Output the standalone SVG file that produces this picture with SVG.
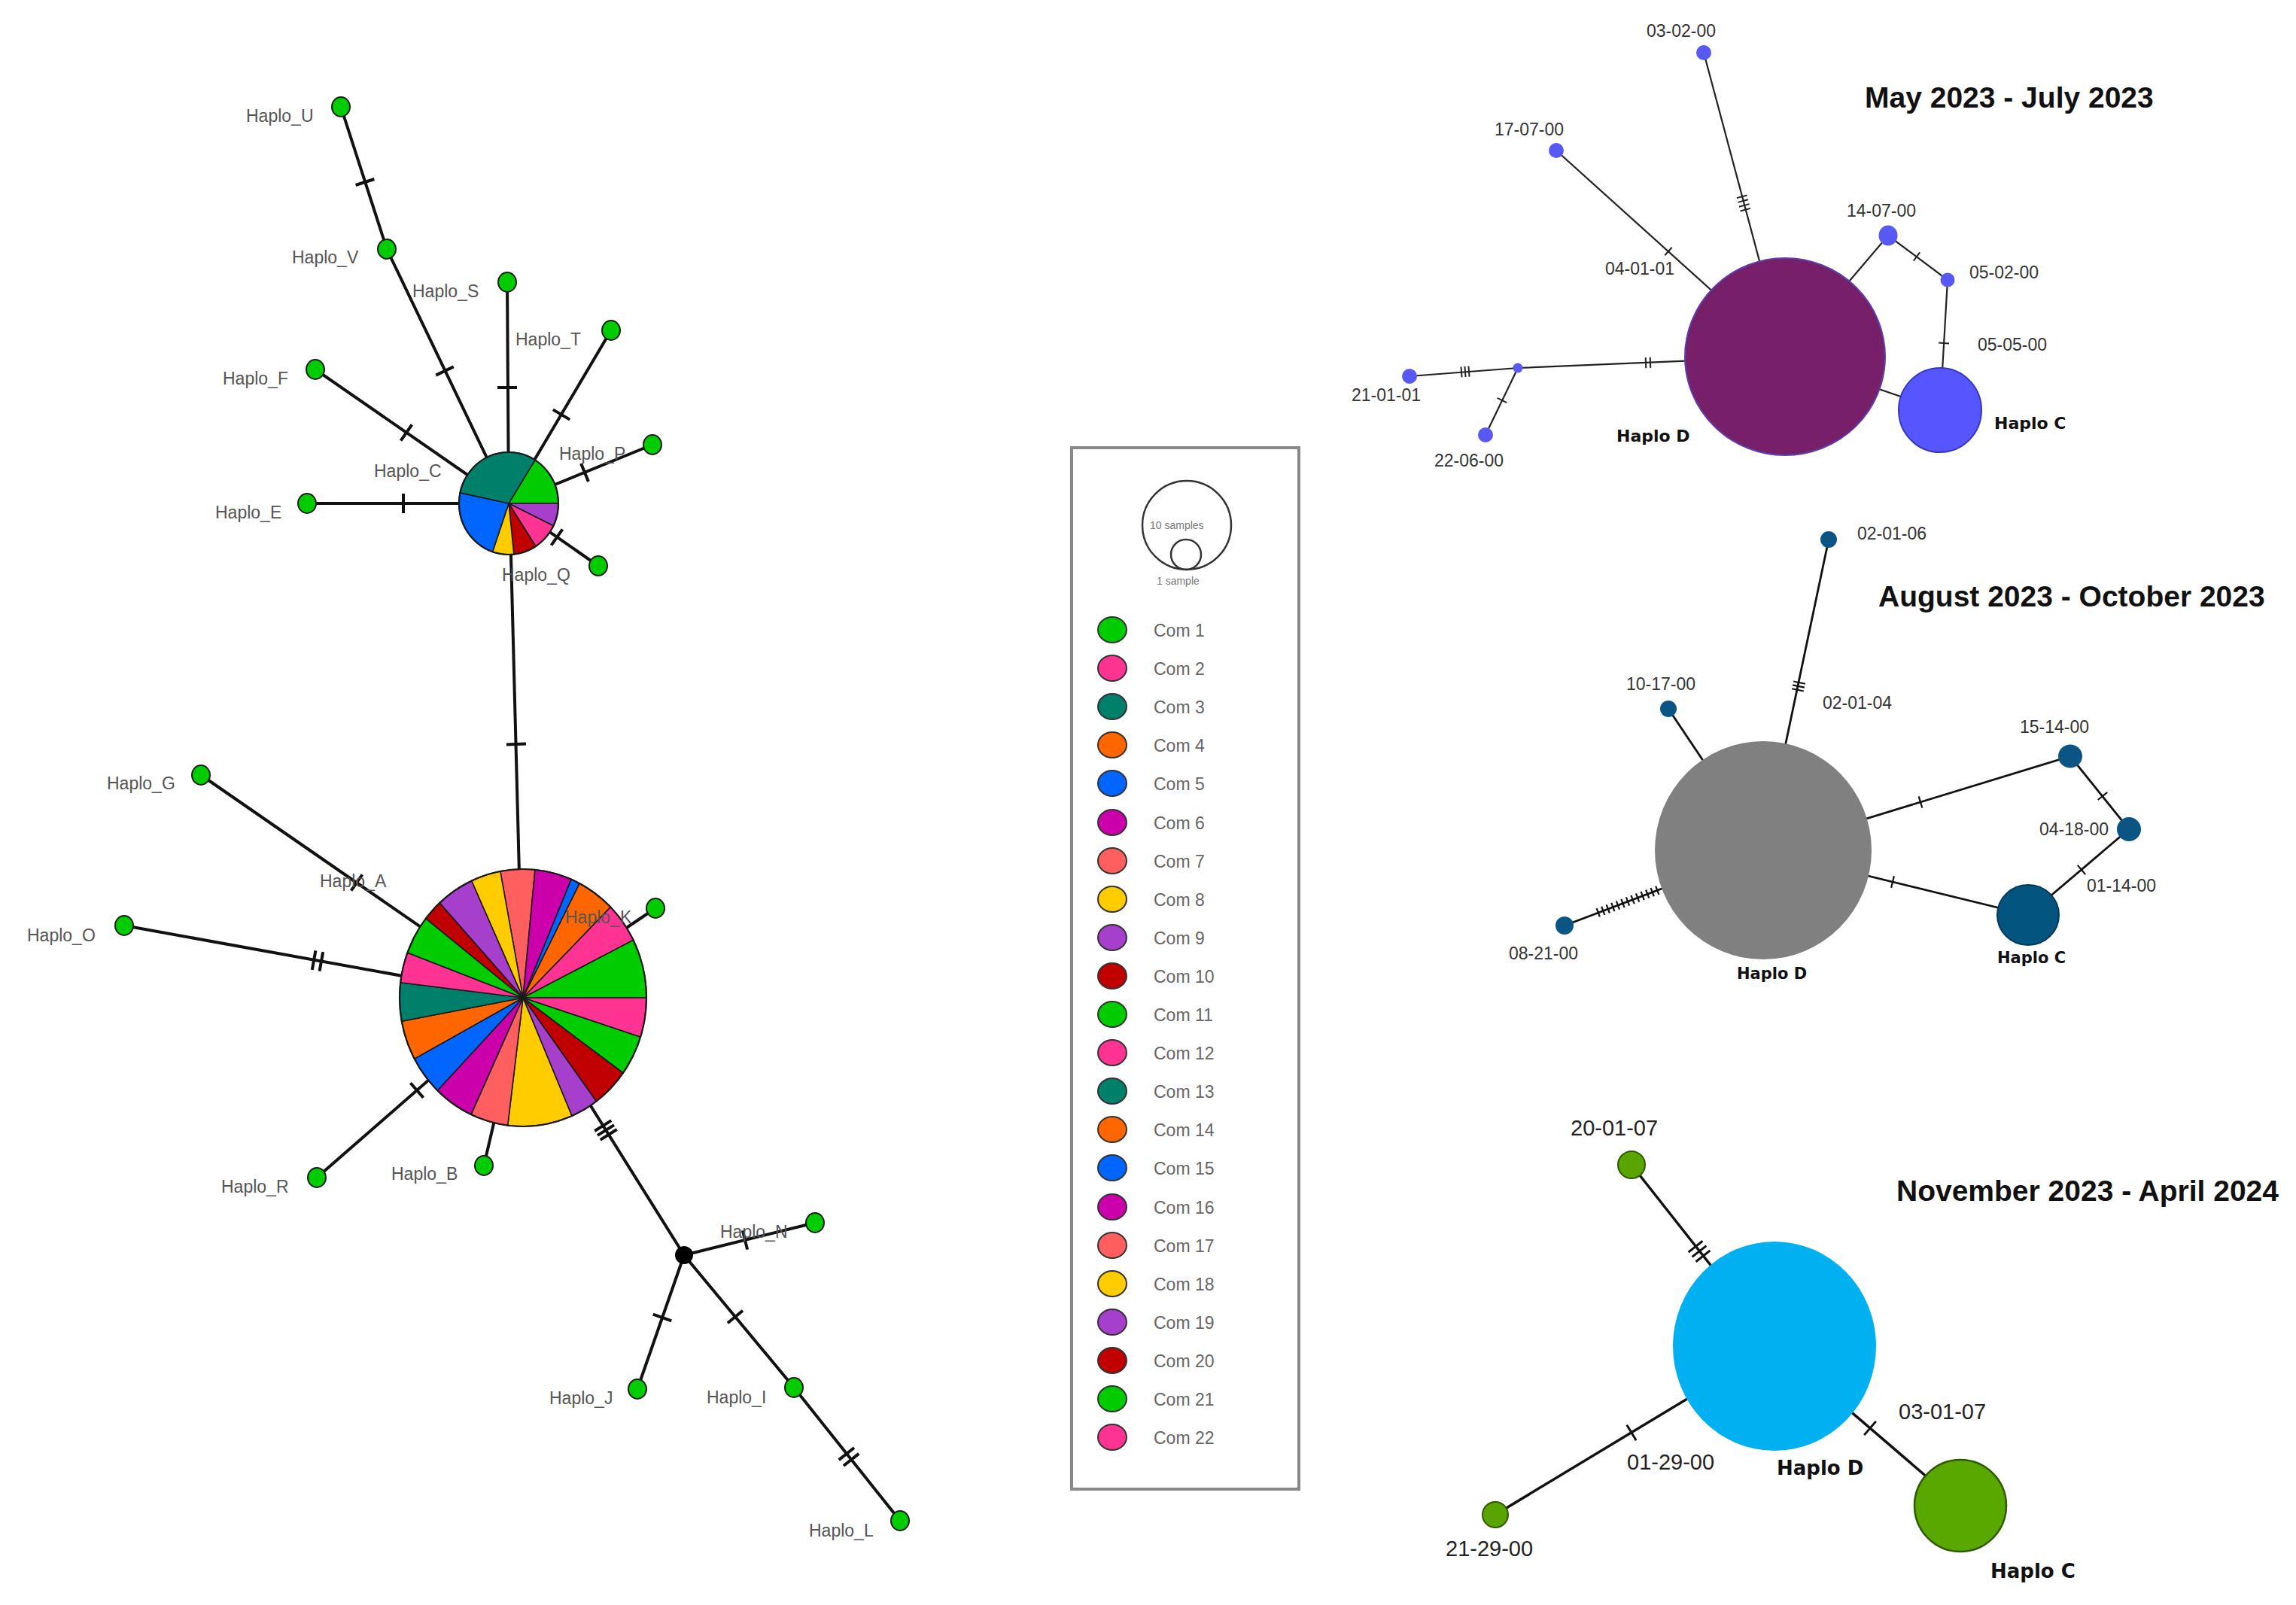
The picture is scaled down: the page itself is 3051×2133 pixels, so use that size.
<svg xmlns="http://www.w3.org/2000/svg" xmlns:xlink="http://www.w3.org/1999/xlink" width="3051" height="2133" viewBox="0 0 3051 2133">
<style>
.edge{stroke:#111;stroke-width:4;fill:none}
.tk{stroke:#111;stroke-width:4;fill:none}
.e1{stroke:#222;stroke-width:2.2;fill:none}
.tk1{stroke:#222;stroke-width:2;fill:none}
.e2{stroke:#111;stroke-width:2.8;fill:none}
.tk2{stroke:#111;stroke-width:2.2;fill:none}
.e3{stroke:#111;stroke-width:3.5;fill:none}
.tk3{stroke:#111;stroke-width:3;fill:none}
.hn{fill:#00CC00;stroke:#1a1a1a;stroke-width:2}
.pie{stroke:#1a1a1a;stroke-width:1.6}
.rim{fill:none;stroke:#1a1a1a;stroke-width:2.2}
.lab{font-family:"Liberation Sans",Arial,sans-serif;font-size:23px;fill:#555}
.leg{font-family:"Liberation Sans",Arial,sans-serif;font-size:23px;fill:#666}
.small{font-family:"Liberation Sans",Arial,sans-serif;font-size:14px;fill:#777}
.ttl{font-family:"Liberation Sans",Arial,sans-serif;font-size:39px;font-weight:bold;fill:#111}
.id1{font-family:"Liberation Sans",Arial,sans-serif;font-size:23px;fill:#333}
.id3{font-family:"Liberation Sans",Arial,sans-serif;font-size:29px;fill:#222}
.hb{font-family:"DejaVu Sans",sans-serif;font-weight:bold;fill:#111}
.g1{fill:#00CC00}.g2{fill:#FF3392}.g3{fill:#00806B}.g4{fill:#FF6600}.g5{fill:#0066FF}
.g6{fill:#CC00AA}.g7{fill:#FF5F5F}.g8{fill:#FFCC00}.g9{fill:#A63FCC}.g10{fill:#C00000}
</style>
<defs>
<path id="t1" d="M0,-13V13"/>
<path id="t2" d="M-5,-13V13M5,-13V13"/>
<path id="t3" d="M-7,-13V13M0,-13V13M7,-13V13"/>
<path id="s1" d="M0,-7V7"/>
<path id="s2" d="M-3,-7V7M3,-7V7"/>
<path id="s3" d="M-5,-7V7M0,-7V7M5,-7V7"/>
<path id="s4" d="M-9,-7V7M-3,-7V7M3,-7V7M9,-7V7"/>
<path id="m1" d="M0,-8V8"/>
<path id="m3" d="M-5,-8V8M0,-8V8M5,-8V8"/>
<path id="m13" d="M-42,-6V6M-35,-6V6M-28,-6V6M-21,-6V6M-14,-6V6M-7,-6V6M0,-6V6M7,-6V6M14,-6V6M21,-6V6M28,-6V6M35,-6V6M42,-6V6"/>
<path id="b1" d="M0,-12V12"/>
<path id="b3" d="M-8,-12V12M0,-12V12M8,-12V12"/>
</defs>
<rect width="3051" height="2133" fill="#fff"/>

<!-- ================= LEFT NETWORK ================= -->
<g id="connectors-left">
<path class="edge" d="M453,142L514,331L676,669"/>
<path class="edge" d="M674,375L676,669"/>
<path class="edge" d="M812,439L676,669"/>
<path class="edge" d="M419,491L676,669"/>
<path class="edge" d="M408,669L676,669"/>
<path class="edge" d="M867,591L676,669"/>
<path class="edge" d="M795,752L676,669"/>
<path class="edge" d="M678,700L691,1200"/>
<path class="edge" d="M267,1030L695,1326"/>
<path class="edge" d="M165,1230L695,1326"/>
<path class="edge" d="M421,1565L695,1326"/>
<path class="edge" d="M643,1549L695,1326"/>
<path class="edge" d="M871,1207L695,1326"/>
<path class="edge" d="M695,1326L909,1668"/>
<path class="edge" d="M909,1668L1083,1625"/>
<path class="edge" d="M909,1668L847,1846"/>
<path class="edge" d="M909,1668L1055,1844L1196,2021"/>
<g class="tk">
<use href="#t1" transform="translate(485,242) rotate(72.1)"/>
<use href="#t1" transform="translate(591,493) rotate(64.4)"/>
<use href="#t1" transform="translate(674,515) rotate(90)"/>
<use href="#t1" transform="translate(746,551) rotate(120.6)"/>
<use href="#t1" transform="translate(540,575) rotate(34.7)"/>
<use href="#t1" transform="translate(536,669) rotate(0)"/>
<use href="#t1" transform="translate(777,628) rotate(-22.2)"/>
<use href="#t1" transform="translate(740,714) rotate(34.9)"/>
<use href="#t1" transform="translate(686,989) rotate(88.2)"/>
<use href="#t1" transform="translate(474,1173) rotate(34.7)"/>
<use href="#t2" transform="translate(422,1277) rotate(10.3)"/>
<use href="#t1" transform="translate(554,1449) rotate(-41.1)"/>
<use href="#t3" transform="translate(805,1502) rotate(58)"/>
<use href="#t1" transform="translate(990,1648) rotate(-13.9)"/>
<use href="#t1" transform="translate(880,1751) rotate(109.2)"/>
<use href="#t1" transform="translate(977,1750) rotate(50.3)"/>
<use href="#t2" transform="translate(1128,1936) rotate(51.5)"/>
</g>
</g>

<g id="Haplo_C">
<path class="pie g1" d="M676,669L711.0,611.3A66,68 0 0 1 742,669Z"/>
<path class="pie g9" d="M676,669L742,669A66,68 0 0 1 735.3,698.8Z"/>
<path class="pie g2" d="M676,669L735.3,698.8A66,68 0 0 1 711.9,726.0Z"/>
<path class="pie g10" d="M676,669L711.9,726.0A66,68 0 0 1 682.9,736.6Z"/>
<path class="pie g8" d="M676,669L682.9,736.6A66,68 0 0 1 654.5,733.3Z"/>
<path class="pie g5" d="M676,669L654.5,733.3A66,68 0 0 1 611.4,654.9Z"/>
<path class="pie g3" d="M676,669L611.4,654.9A66,68 0 0 1 711.0,611.3Z"/>
<ellipse class="rim" cx="676" cy="669" rx="66" ry="68"/>
<text class="lab" x="497" y="634">Haplo_C</text>
</g>

<g id="Haplo_A">
<path class="pie g7" d="M695,1326L664.8,1157.9A164,171 0 0 1 711.0,1155.8Z"/>
<path class="pie g6" d="M695,1326L711.0,1155.8A164,171 0 0 1 759.1,1168.6Z"/>
<path class="pie g5" d="M695,1326L759.1,1168.6A164,171 0 0 1 770.2,1174.0Z"/>
<path class="pie g4" d="M695,1326L770.2,1174.0A164,171 0 0 1 811.4,1205.5Z"/>
<path class="pie g2" d="M695,1326L811.4,1205.5A164,171 0 0 1 841.6,1249.4Z"/>
<path class="pie g1" d="M695,1326L841.6,1249.4A164,171 0 0 1 859,1326Z"/>
<path class="pie g2" d="M695,1326L859,1326A164,171 0 0 1 851.1,1378.3Z"/>
<path class="pie g1" d="M695,1326L851.1,1378.3A164,171 0 0 1 828.0,1426.0Z"/>
<path class="pie g10" d="M695,1326L828.0,1426.0A164,171 0 0 1 792.3,1463.6Z"/>
<path class="pie g9" d="M695,1326L792.3,1463.6A164,171 0 0 1 759.9,1483.0Z"/>
<path class="pie g8" d="M695,1326L759.9,1483.0A164,171 0 0 1 674.7,1495.7Z"/>
<path class="pie g7" d="M695,1326L674.7,1495.7A164,171 0 0 1 626.0,1481.1Z"/>
<path class="pie g6" d="M695,1326L626.0,1481.1A164,171 0 0 1 581.3,1449.2Z"/>
<path class="pie g5" d="M695,1326L581.3,1449.2A164,171 0 0 1 550.6,1407.1Z"/>
<path class="pie g4" d="M695,1326L550.6,1407.1A164,171 0 0 1 533.7,1357.2Z"/>
<path class="pie g3" d="M695,1326L533.7,1357.2A164,171 0 0 1 532.1,1305.8Z"/>
<path class="pie g2" d="M695,1326L532.1,1305.8A164,171 0 0 1 541.4,1266.1Z"/>
<path class="pie g1" d="M695,1326L541.4,1266.1A164,171 0 0 1 565.8,1220.7Z"/>
<path class="pie g10" d="M695,1326L565.8,1220.7A164,171 0 0 1 584.2,1199.9Z"/>
<path class="pie g9" d="M695,1326L584.2,1199.9A164,171 0 0 1 626.7,1170.5Z"/>
<path class="pie g8" d="M695,1326L626.7,1170.5A164,171 0 0 1 664.8,1157.9Z"/>
<ellipse class="rim" cx="695" cy="1326" rx="164" ry="171"/>
<text class="lab" x="425" y="1179">Haplo_A</text>
</g>

<g id="Haplo_U"><ellipse class="hn" cx="453" cy="142" rx="12" ry="13"/><text class="lab" x="327" y="162">Haplo_U</text></g>
<g id="Haplo_V"><ellipse class="hn" cx="514" cy="331" rx="12" ry="13"/><text class="lab" x="388" y="350">Haplo_V</text></g>
<g id="Haplo_S"><ellipse class="hn" cx="674" cy="375" rx="12" ry="13"/><text class="lab" x="548" y="395">Haplo_S</text></g>
<g id="Haplo_T"><ellipse class="hn" cx="812" cy="439" rx="12" ry="13"/><text class="lab" x="685" y="459">Haplo_T</text></g>
<g id="Haplo_F"><ellipse class="hn" cx="419" cy="491" rx="12" ry="13"/><text class="lab" x="296" y="511">Haplo_F</text></g>
<g id="Haplo_P"><ellipse class="hn" cx="867" cy="591" rx="12" ry="13"/><text class="lab" x="743" y="611">Haplo_P</text></g>
<g id="Haplo_E"><ellipse class="hn" cx="408" cy="669" rx="12" ry="13"/><text class="lab" x="286" y="689">Haplo_E</text></g>
<g id="Haplo_Q"><ellipse class="hn" cx="795" cy="752" rx="12" ry="13"/><text class="lab" x="667" y="772">Haplo_Q</text></g>
<g id="Haplo_G"><ellipse class="hn" cx="267" cy="1030" rx="12" ry="13"/><text class="lab" x="142" y="1049">Haplo_G</text></g>
<g id="Haplo_O"><ellipse class="hn" cx="165" cy="1230" rx="12" ry="13"/><text class="lab" x="36" y="1251">Haplo_O</text></g>
<g id="Haplo_K"><ellipse class="hn" cx="871" cy="1207" rx="12" ry="13"/><text class="lab" x="751" y="1227">Haplo_K</text></g>
<g id="Haplo_R"><ellipse class="hn" cx="421" cy="1565" rx="12" ry="13"/><text class="lab" x="294" y="1585">Haplo_R</text></g>
<g id="Haplo_B"><ellipse class="hn" cx="643" cy="1549" rx="12" ry="13"/><text class="lab" x="520" y="1568">Haplo_B</text></g>
<g id="median"><circle cx="909" cy="1668" r="12" fill="#000"/></g>
<g id="Haplo_N"><ellipse class="hn" cx="1083" cy="1625" rx="12" ry="13"/><text class="lab" x="957" y="1645">Haplo_N</text></g>
<g id="Haplo_J"><ellipse class="hn" cx="847" cy="1846" rx="12" ry="13"/><text class="lab" x="730" y="1866">Haplo_J</text></g>
<g id="Haplo_I"><ellipse class="hn" cx="1055" cy="1844" rx="12" ry="13"/><text class="lab" x="939" y="1865">Haplo_I</text></g>
<g id="Haplo_L"><ellipse class="hn" cx="1196" cy="2021" rx="12" ry="13"/><text class="lab" x="1075" y="2042">Haplo_L</text></g>

<!-- ================= LEGEND ================= -->
<g id="legend">
<rect x="1424" y="595" width="302" height="1384" fill="#fff" stroke="#888" stroke-width="4"/>
<circle cx="1577" cy="698" r="59" fill="none" stroke="#333" stroke-width="2.5"/>
<circle cx="1576" cy="737" r="20" fill="none" stroke="#333" stroke-width="2.5"/>
<text class="small" x="1528" y="703">10 samples</text>
<text class="small" x="1537" y="777">1 sample</text>
<g stroke="#333" stroke-width="2">
<ellipse class="g1" cx="1478" cy="837" rx="19" ry="17"/>
<ellipse class="g2" cx="1478" cy="888" rx="19" ry="17"/>
<ellipse class="g3" cx="1478" cy="939" rx="19" ry="17"/>
<ellipse class="g4" cx="1478" cy="990" rx="19" ry="17"/>
<ellipse class="g5" cx="1478" cy="1041" rx="19" ry="17"/>
<ellipse class="g6" cx="1478" cy="1093" rx="19" ry="17"/>
<ellipse class="g7" cx="1478" cy="1144" rx="19" ry="17"/>
<ellipse class="g8" cx="1478" cy="1195" rx="19" ry="17"/>
<ellipse class="g9" cx="1478" cy="1246" rx="19" ry="17"/>
<ellipse class="g10" cx="1478" cy="1297" rx="19" ry="17"/>
<ellipse class="g1" cx="1478" cy="1348" rx="19" ry="17"/>
<ellipse class="g2" cx="1478" cy="1399" rx="19" ry="17"/>
<ellipse class="g3" cx="1478" cy="1450" rx="19" ry="17"/>
<ellipse class="g4" cx="1478" cy="1501" rx="19" ry="17"/>
<ellipse class="g5" cx="1478" cy="1552" rx="19" ry="17"/>
<ellipse class="g6" cx="1478" cy="1604" rx="19" ry="17"/>
<ellipse class="g7" cx="1478" cy="1655" rx="19" ry="17"/>
<ellipse class="g8" cx="1478" cy="1706" rx="19" ry="17"/>
<ellipse class="g9" cx="1478" cy="1757" rx="19" ry="17"/>
<ellipse class="g10" cx="1478" cy="1808" rx="19" ry="17"/>
<ellipse class="g1" cx="1478" cy="1859" rx="19" ry="17"/>
<ellipse class="g2" cx="1478" cy="1910" rx="19" ry="17"/>
</g>
<text class="leg" x="1533" y="846">Com 1</text>
<text class="leg" x="1533" y="897">Com 2</text>
<text class="leg" x="1533" y="948">Com 3</text>
<text class="leg" x="1533" y="999">Com 4</text>
<text class="leg" x="1533" y="1050">Com 5</text>
<text class="leg" x="1533" y="1102">Com 6</text>
<text class="leg" x="1533" y="1153">Com 7</text>
<text class="leg" x="1533" y="1204">Com 8</text>
<text class="leg" x="1533" y="1255">Com 9</text>
<text class="leg" x="1533" y="1306">Com 10</text>
<text class="leg" x="1533" y="1357">Com 11</text>
<text class="leg" x="1533" y="1408">Com 12</text>
<text class="leg" x="1533" y="1459">Com 13</text>
<text class="leg" x="1533" y="1510">Com 14</text>
<text class="leg" x="1533" y="1561">Com 15</text>
<text class="leg" x="1533" y="1613">Com 16</text>
<text class="leg" x="1533" y="1664">Com 17</text>
<text class="leg" x="1533" y="1715">Com 18</text>
<text class="leg" x="1533" y="1766">Com 19</text>
<text class="leg" x="1533" y="1817">Com 20</text>
<text class="leg" x="1533" y="1868">Com 21</text>
<text class="leg" x="1533" y="1919">Com 22</text>
</g>

<!-- ================= PANEL 1: May-July 2023 ================= -->
<text id="title-1" class="ttl" x="2478" y="143">May 2023 - July 2023</text>
<g id="connectors-p1">
<path class="e1" d="M2264,70L2372,474"/>
<path class="e1" d="M2068,200L2372,474"/>
<path class="e1" d="M2372,474L2509,313L2588,372L2578,545"/>
<path class="e1" d="M2372,474L2578,545"/>
<path class="e1" d="M2372,474L2017,489L1873,500"/>
<path class="e1" d="M2017,489L1974,578"/>
<g class="tk1">
<use href="#s4" transform="translate(2317,270) rotate(75.1)"/>
<use href="#s1" transform="translate(2217,334) rotate(41.9)"/>
<use href="#s1" transform="translate(2547,341) rotate(36.7)"/>
<use href="#s1" transform="translate(2583,456) rotate(93.3)"/>
<use href="#s2" transform="translate(2190,482) rotate(-2.4)"/>
<use href="#s3" transform="translate(1947,494) rotate(-4.4)"/>
<use href="#s1" transform="translate(1996,532) rotate(115.8)"/>
</g>
</g>
<g id="p1-haplo-d"><ellipse cx="2372" cy="474" rx="133" ry="131" fill="#771F69" stroke="#5d3fb0" stroke-width="2"/><text class="hb" font-size="22" x="2148" y="587">Haplo D</text></g>
<g id="p1-haplo-c"><ellipse cx="2578" cy="545" rx="55" ry="56" fill="#5656FF" stroke="#3838b8" stroke-width="2"/><text class="hb" font-size="22" x="2650" y="570">Haplo C</text></g>
<g fill="#5858F2">
<g id="p1-03-02-00"><circle cx="2264" cy="70" r="10"/><text class="id1" x="2188" y="49">03-02-00</text></g>
<g id="p1-17-07-00"><circle cx="2068" cy="200" r="10"/><text class="id1" x="1986" y="180">17-07-00</text></g>
<g id="p1-04-01-01"><text class="id1" x="2133" y="365">04-01-01</text></g>
<g id="p1-14-07-00"><ellipse cx="2509" cy="313" rx="12.5" ry="13.5"/><text class="id1" x="2454" y="288">14-07-00</text></g>
<g id="p1-05-02-00"><circle cx="2588" cy="372" r="9.5"/><text class="id1" x="2617" y="370">05-02-00</text></g>
<g id="p1-05-05-00"><text class="id1" x="2628" y="466">05-05-00</text></g>
<g id="p1-21-01-01"><circle cx="1873" cy="500" r="10"/><text class="id1" x="1796" y="533">21-01-01</text></g>
<g id="p1-median"><circle cx="2017" cy="489" r="6.5"/></g>
<g id="p1-22-06-00"><circle cx="1974" cy="578" r="10"/><text class="id1" x="1906" y="620">22-06-00</text></g>
</g>

<!-- ================= PANEL 2: Aug-Oct 2023 ================= -->
<text id="title-2" class="ttl" x="2496" y="806">August 2023 - October 2023</text>
<g id="connectors-p2">
<path class="e2" d="M2430,717L2343,1130"/>
<path class="e2" d="M2217,942L2343,1130"/>
<path class="e2" d="M2343,1130L2751,1005L2829,1102L2695,1216"/>
<path class="e2" d="M2343,1130L2695,1216"/>
<path class="e2" d="M2079,1230L2343,1130"/>
<g class="tk2">
<use href="#m3" transform="translate(2390,912) rotate(101.9)"/>
<use href="#m1" transform="translate(2552,1066) rotate(-17)"/>
<use href="#m1" transform="translate(2794,1058) rotate(51.2)"/>
<use href="#m1" transform="translate(2766,1156) rotate(139.6)"/>
<use href="#m1" transform="translate(2515,1172) rotate(13.7)"/>
<use href="#m13" transform="translate(2163,1198) rotate(-20.7)"/>
</g>
</g>
<g id="p2-haplo-d"><ellipse cx="2343" cy="1130" rx="144" ry="145" fill="#808080"/><text class="hb" font-size="21" x="2308" y="1301">Haplo D</text></g>
<g id="p2-haplo-c"><ellipse cx="2695" cy="1216" rx="41" ry="40" fill="#045480" stroke="#023a5c" stroke-width="2"/><text class="hb" font-size="21" x="2654" y="1280">Haplo C</text></g>
<g fill="#0B5585">
<g id="p2-02-01-06"><circle cx="2430" cy="717" r="11"/><text class="id1" x="2468" y="717">02-01-06</text></g>
<g id="p2-02-01-04"><text class="id1" x="2422" y="942">02-01-04</text></g>
<g id="p2-10-17-00"><circle cx="2217" cy="942" r="11"/><text class="id1" x="2161" y="917">10-17-00</text></g>
<g id="p2-15-14-00"><ellipse cx="2751" cy="1005" rx="16" ry="15.5"/><text class="id1" x="2684" y="974">15-14-00</text></g>
<g id="p2-04-18-00"><ellipse cx="2829" cy="1102" rx="16" ry="16"/><text class="id1" x="2710" y="1110">04-18-00</text></g>
<g id="p2-01-14-00"><text class="id1" x="2773" y="1185">01-14-00</text></g>
<g id="p2-08-21-00"><circle cx="2079" cy="1230" r="12"/><text class="id1" x="2005" y="1275">08-21-00</text></g>
</g>

<!-- ================= PANEL 3: Nov 2023-Apr 2024 ================= -->
<text id="title-3" class="ttl" x="2520" y="1596">November 2023 - April 2024</text>
<g id="connectors-p3">
<path class="e3" d="M2168,1548L2358,1789"/>
<path class="e3" d="M1987,2013L2358,1789"/>
<path class="e3" d="M2358,1789L2605,2001"/>
<g class="tk3">
<use href="#b3" transform="translate(2258,1663) rotate(51.7)"/>
<use href="#b1" transform="translate(2168,1904) rotate(-31.1)"/>
<use href="#b1" transform="translate(2485,1898) rotate(40.6)"/>
</g>
</g>
<g id="p3-haplo-d"><ellipse cx="2358" cy="1789" rx="135" ry="139" fill="#00B0F0"/><text class="hb" font-size="26" x="2361" y="1960">Haplo D</text></g>
<g id="p3-haplo-c"><ellipse cx="2605" cy="2001" rx="61" ry="61" fill="#58A800" stroke="#2e5a00" stroke-width="2.5"/><text class="hb" font-size="26" x="2645" y="2097">Haplo C</text></g>
<g fill="#5AA400" stroke="#2e5a00" stroke-width="2">
<g id="p3-20-01-07"><ellipse cx="2168" cy="1548" rx="18" ry="18"/></g>
<g id="p3-21-29-00"><ellipse cx="1987" cy="2013" rx="17" ry="17"/></g>
</g>
<text class="id3" x="2087" y="1509">20-01-07</text>
<text class="id3" x="2523" y="1886">03-01-07</text>
<text class="id3" x="2162" y="1953">01-29-00</text>
<text class="id3" x="1921" y="2068">21-29-00</text>
</svg>
